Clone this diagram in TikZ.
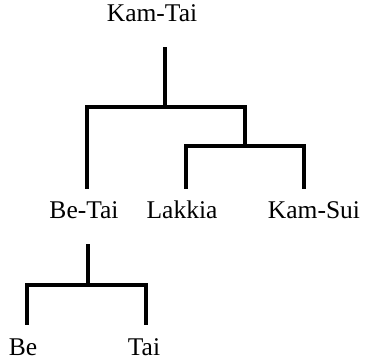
\documentclass[tikz,border=0pt]{standalone}
\usepackage{fontspec}
\setmainfont{Liberation Serif}
\begin{document}
\begin{tikzpicture}[x=1pt,y=-1pt,
  lbl/.style={anchor=base,inner sep=0pt,font=\fontsize{25.5}{30}\selectfont},
  branch/.style={line width=3.2pt,line join=miter,line cap=rect}]
\useasboundingbox (0,0) rectangle (367,361);

% labels
\node[lbl] (kamtai) at (152,22) {Kam-Tai};
\node[lbl] (betai)  at (84,218) {Be-Tai};
\node[lbl] (lakkia) at (182,218) {Lakkia};
\node[lbl] (kamsui) at (314,218) {Kam-Sui};
\node[lbl] (be)     at (23,355) {Be};
\node[lbl] (tai)    at (144,355) {Tai};

% upper tree junctions
\coordinate (r0) at (165,49);
\coordinate (r1) at (165,107);
\coordinate (a1) at (87,107);
\coordinate (a2) at (87,187);
\coordinate (b1) at (245,107);
\coordinate (b0) at (245,146);
\coordinate (c1) at (186,146);
\coordinate (c2) at (186,187);
\coordinate (d1) at (304,146);
\coordinate (d2) at (304,187);

% lower tree junctions
\coordinate (e0) at (88,246);
\coordinate (e1) at (88,285);
\coordinate (f1) at (27,285);
\coordinate (f2) at (27,323);
\coordinate (g1) at (146,285);
\coordinate (g2) at (146,323);

\draw[branch] (r0) -- (r1);
\draw[branch] (a2) -- (a1) -- (b1) -- (b0);
\draw[branch] (c2) -- (c1) -- (d1) -- (d2);
\draw[branch] (e0) -- (e1);
\draw[branch] (f2) -- (f1) -- (g1) -- (g2);
\end{tikzpicture}
\end{document}
